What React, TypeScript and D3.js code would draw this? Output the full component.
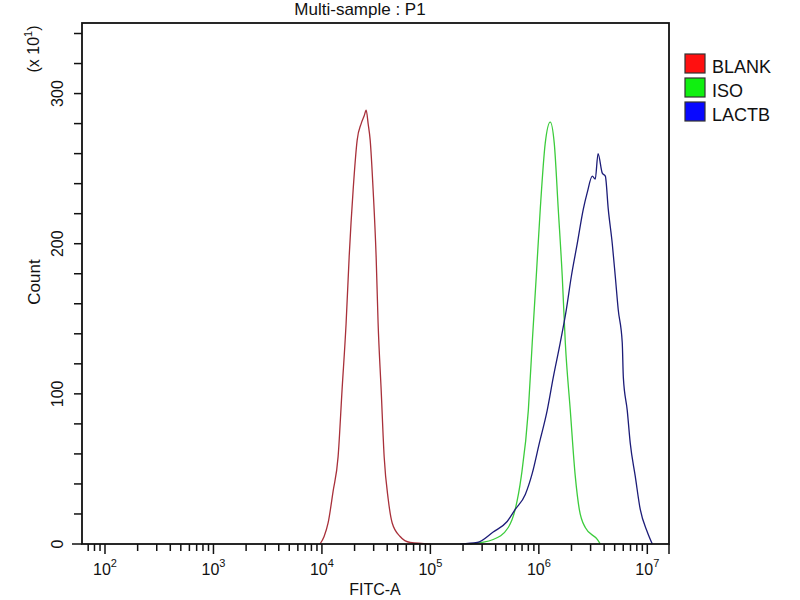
import * as d3 from 'd3'

// FITC-A values are kept as log10 exponents, counts in units of x10
const blankLog = [3.983, 4.02, 4.057, 4.103, 4.149, 4.186, 4.223, 4.251, 4.288, 4.325, 4.362, 4.389, 4.408, 4.426, 4.445, 4.472, 4.5, 4.518, 4.546, 4.574, 4.611, 4.648, 4.721, 4.814, 5.0]
const blankCount = [0, 5, 14, 35, 58, 103, 147, 191, 236, 269, 280, 285, 289, 280, 269, 236, 191, 147, 103, 58, 30, 14, 5, 1, 0]

const isoLog = [5.367, 5.579, 5.718, 5.782, 5.838, 5.903, 5.939, 5.976, 6.013, 6.059, 6.105, 6.142, 6.179, 6.216, 6.244, 6.29, 6.336, 6.373, 6.428, 6.539, 6.566]
const isoCount = [0, 3, 11, 23, 45, 89, 134, 178, 223, 267, 281, 267, 223, 178, 134, 89, 45, 23, 11, 3, 0]

const lactbLog = [5.275, 5.432, 5.579, 5.708, 5.782, 5.875, 5.939, 6.004, 6.077, 6.133, 6.197, 6.253, 6.299, 6.354, 6.41, 6.446, 6.493, 6.52, 6.546, 6.585, 6.613, 6.64, 6.677, 6.705, 6.732, 6.769, 6.779, 6.815, 6.843, 6.889, 6.935, 7.0, 7.046]
const lactbCount = [0, 1, 8, 15, 23, 33, 47, 67, 89, 111, 134, 156, 178, 200, 223, 234, 245, 243, 260, 247, 245, 223, 200, 178, 156, 134, 111, 89, 67, 45, 23, 8, 0]

const decades = [2, 3, 4, 5, 6, 7]
const yMajor = [0, 100, 200, 300]

const series = [
  { name: 'BLANK', logs: blankLog, counts: blankCount, line: '#a8303a', swatch: '#ff1010' },
  { name: 'ISO', logs: isoLog, counts: isoCount, line: '#3ccc3c', swatch: '#10f010' },
  { name: 'LACTB', logs: lactbLog, counts: lactbCount, line: '#1c1c78', swatch: '#0808ff' },
]

const W = 800
const H = 600
const left = 82
const right = 669
const top = 23
const bottom = 544
const font = '"Liberation Sans", Arial, sans-serif'

export default function App() {
  const x = d3.scaleLog().domain([Math.pow(10, 1.788), Math.pow(10, 7.2)]).range([left, right])
  const y = d3.scaleLinear().domain([0, 347]).range([bottom, top])

  const minorX: number[] = []
  for (let e = 1; e <= 7; e++) {
    for (let m = 2; m <= 9; m++) {
      const v = m * Math.pow(10, e)
      if (x(v) >= left && x(v) <= right) minorX.push(v)
    }
  }
  const yTicks = d3.range(20, 341, 20)

  const line = d3
    .line<[number, number]>()
    .x((d) => x(Math.pow(10, d[0])))
    .y((d) => y(d[1]))
    .curve(d3.curveMonotoneX)

  return (
    <div style={{ position: 'absolute', left: 0, top: 0 }}>
      <svg width={W} height={H} style={{ display: 'block', background: '#fff' }} fontFamily={font}>
        <text x={360} y={15} textAnchor="middle" fontSize={17} fill="#111">
          Multi-sample : P1
        </text>

        {series.map((s) => (
          <path
            key={s.name}
            d={line(s.logs.map((l, i) => [l, s.counts[i]] as [number, number])) || ''}
            fill="none"
            stroke={s.line}
            strokeWidth={1.3}
          />
        ))}

        {/* frame */}
        <rect x={left} y={top} width={right - left} height={bottom - top} fill="none" stroke="#111" strokeWidth={1.8} />

        {/* y ticks */}
        {yTicks.map((t) => (
          <line key={t} x1={left - 8} x2={left} y1={y(t)} y2={y(t)} stroke="#111" strokeWidth={1.5} />
        ))}
        <line x1={left - 10} x2={left} y1={y(0)} y2={y(0)} stroke="#111" strokeWidth={1.5} />
        {yMajor.map((t) => (
          <text key={t} transform={`translate(63,${y(t)}) rotate(-90)`} textAnchor="middle" fontSize={16} fill="#111">
            {t}
          </text>
        ))}
        <text transform="translate(40,282) rotate(-90)" textAnchor="middle" fontSize={17} fill="#111">
          Count
        </text>
        <text transform="translate(39,49) rotate(-90)" textAnchor="middle" fontSize={16} fill="#111">
          (x 10
          <tspan fontSize={11} dy={-7}>
            1
          </tspan>
          <tspan dy={7}>)</tspan>
        </text>

        {/* x ticks */}
        {minorX.map((v) => (
          <line key={v} x1={x(v)} x2={x(v)} y1={bottom} y2={bottom + 7} stroke="#111" strokeWidth={1.5} />
        ))}
        {decades.map((e) => (
          <line key={e} x1={x(Math.pow(10, e))} x2={x(Math.pow(10, e))} y1={bottom} y2={bottom + 10} stroke="#111" strokeWidth={1.5} />
        ))}
        <line x1={right} x2={right} y1={bottom} y2={bottom + 10} stroke="#111" strokeWidth={1.5} />
        {decades.map((e) => (
          <text key={e} x={x(Math.pow(10, e))} y={575} textAnchor="middle" fontSize={16} fill="#111">
            10
            <tspan fontSize={11} dy={-8}>
              {e}
            </tspan>
          </text>
        ))}
        <text x={375} y={595} textAnchor="middle" fontSize={16} fill="#111">
          FITC-A
        </text>

        {/* legend */}
        {series.map((s, i) => (
          <g key={s.name} transform={`translate(685,${54 + i * 24})`}>
            <rect width={20} height={19} fill={s.swatch} stroke="#333" strokeWidth={1.2} />
            <text x={27} y={19} fontSize={18} fill="#111">
              {s.name}
            </text>
          </g>
        ))}
      </svg>
    </div>
  )
}
